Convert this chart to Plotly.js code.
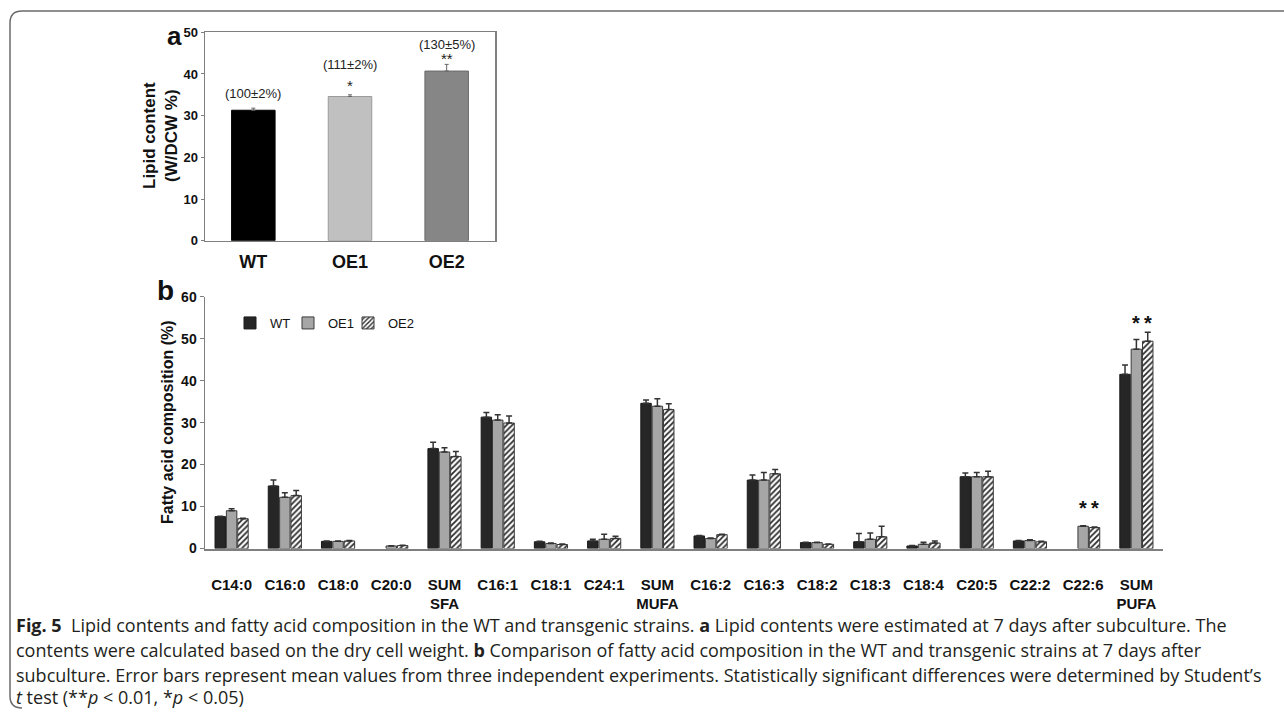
<!DOCTYPE html>
<html>
<head>
<meta charset="utf-8">
<script src="https://cdn.plot.ly/plotly-3.0.1.min.js"></script>
<style>html,body{margin:0;padding:0;background:#fff;}#chart{width:1284px;height:713px;}</style>
</head>
<body>
<div id="chart"></div>
<script>
// ---------- Panel a data ----------
const strains = ['WT', 'OE1', 'OE2'];
const lipid = [31.3, 34.6, 40.7];
const lipidErr = [0.5, 0.4, 1.6];
const relLabels = ['(100±2%)', '(111±2%)', '(130±5%)'];
const lipidSig = ['', '*', '**'];

// ---------- Panel b data ----------
const acids = ['C14:0', 'C16:0', 'C18:0', 'C20:0', 'SUM<br>SFA', 'C16:1', 'C18:1', 'C24:1', 'SUM<br>MUFA',
  'C16:2', 'C16:3', 'C18:2', 'C18:3', 'C18:4', 'C20:5', 'C22:2', 'C22:6', 'SUM<br>PUFA'];
const wt     = [7.6, 14.9, 1.7, null, 23.8, 31.3, 1.6, 1.8, 34.6, 3.0, 16.3, 1.4, 1.6, 0.6, 17.1, 1.8, null, 41.5];
const wtErr  = [0.1, 1.4, 0.1, 0, 1.5, 1.1, 0.1, 0.4, 0.8, 0.1, 1.2, 0.1, 2.0, 0.1, 0.9, 0.1, 0, 2.2];
const oe1    = [9.0, 12.2, 1.7, 0.6, 23.0, 30.6, 1.2, 2.2, 33.9, 2.4, 16.3, 1.4, 2.2, 1.0, 17.1, 1.9, 5.3, 47.5];
const oe1Err = [0.5, 1.1, 0.1, 0.05, 1.0, 1.3, 0.1, 1.2, 1.8, 0.1, 1.8, 0.1, 1.5, 0.5, 1.0, 0.2, 0.1, 2.3];
const oe2    = [7.1, 12.6, 1.8, 0.7, 21.9, 29.9, 0.95, 2.4, 33.1, 3.3, 17.8, 1.0, 2.8, 1.3, 17.1, 1.6, 5.0, 49.4];
const oe2Err = [0.1, 1.2, 0.1, 0.05, 1.2, 1.7, 0.1, 0.5, 1.4, 0.1, 1.0, 0.1, 2.5, 0.5, 1.3, 0.1, 0.1, 2.1];
const sigAcids = ['C22:6', 'SUM<br>PUFA'];

const captionLines = [
  '<b>Fig. 5</b>  Lipid contents and fatty acid composition in the WT and transgenic strains. <b>a</b> Lipid contents were estimated at 7 days after subculture. The',
  'contents were calculated based on the dry cell weight. <b>b</b> Comparison of fatty acid composition in the WT and transgenic strains at 7 days after',
  'subculture. Error bars represent mean values from three independent experiments. Statistically significant differences were determined by Student’s',
  '<i>t</i> test (**<i>p</i> < 0.01, *<i>p</i> < 0.05)'
];

const W = 1284, H = 713;
const px = x => x / W;
const py = y => 1 - y / H;
const FONT = 'Liberation Sans, Arial, sans-serif';
const AX = '#7f7f7f';

const zeros = n => new Array(n).fill(0);

const traces = [
  {
    type: 'bar', x: strains, y: lipid, xaxis: 'x', yaxis: 'y', width: 0.45, showlegend: false,
    marker: { color: ['#000000', '#c0c0c0', '#868686'], line: { color: ['#000', '#9a9a9a', '#6a6a6a'], width: 1 } },
    error_y: { type: 'data', array: lipidErr, arrayminus: zeros(3), symmetric: false, color: '#666', thickness: 1, width: 2 }
  },
  {
    type: 'bar', name: 'WT', x: acids, y: wt, xaxis: 'x2', yaxis: 'y2', legend: 'legend',
    marker: { color: '#262626', line: { color: '#1a1a1a', width: 1 } },
    error_y: { type: 'data', array: wtErr, arrayminus: zeros(acids.length), symmetric: false, color: '#333', thickness: 1.5, width: 3 }
  },
  {
    type: 'bar', name: 'OE1', x: acids, y: oe1, xaxis: 'x2', yaxis: 'y2', legend: 'legend2',
    marker: { color: '#a6a6a6', line: { color: '#3a3a3a', width: 1 } },
    error_y: { type: 'data', array: oe1Err, arrayminus: zeros(acids.length), symmetric: false, color: '#333', thickness: 1.5, width: 3 }
  },
  {
    type: 'bar', name: 'OE2', x: acids, y: oe2, xaxis: 'x2', yaxis: 'y2', legend: 'legend3',
    marker: { color: '#ffffff', line: { color: '#3a3a3a', width: 1 },
      pattern: { shape: '/', fgcolor: '#2a2a2a', bgcolor: '#ffffff', size: 4, solidity: 0.45 } },
    error_y: { type: 'data', array: oe2Err, arrayminus: zeros(acids.length), symmetric: false, color: '#333', thickness: 1.5, width: 3 }
  }
];

const annotations = [];
// panel a labels above bars
const relShift = [15, 30, 20];
const sigShift = [0, 9, 6];
strains.forEach((s, i) => {
  const top = lipid[i] + lipidErr[i];
  annotations.push({ xref: 'x', yref: 'y', x: s, y: top, text: relLabels[i], showarrow: false,
    xanchor: 'center', yanchor: 'middle', yshift: relShift[i], font: { family: FONT, size: 13, color: '#222' } });
  if (lipidSig[i]) {
    annotations.push({ xref: 'x', yref: 'y', x: s, y: top, text: lipidSig[i], showarrow: false,
      xanchor: 'center', yanchor: 'middle', yshift: sigShift[i], font: { family: FONT, size: 15, color: '#222' } });
  }
});
// panel b significance stars over OE1 and OE2 bars
const starShift = [18, 9];
sigAcids.forEach((c, k) => {
  const i = acids.indexOf(c);
  const top = Math.max(oe1[i] + oe1Err[i], oe2[i] + oe2Err[i]);
  [0, 12].forEach(dx => {
    annotations.push({ xref: 'x2', yref: 'y2', x: c, y: top, text: '*', showarrow: false, xshift: dx,
      xanchor: 'center', yanchor: 'middle', yshift: starShift[k], font: { family: FONT, size: 20, color: '#111', weight: 'bold' } });
  });
});
// panel letters and axis titles
annotations.push({ xref: 'paper', yref: 'paper', x: px(175), y: py(36), xanchor: 'center', yanchor: 'middle',
  text: '<b>a</b>', showarrow: false, font: { family: FONT, size: 26, color: '#111' } });
annotations.push({ xref: 'paper', yref: 'paper', x: px(166), y: py(290), xanchor: 'center', yanchor: 'middle',
  text: '<b>b</b>', showarrow: false, font: { family: FONT, size: 28, color: '#111' } });
annotations.push({ xref: 'paper', yref: 'paper', x: px(161), y: py(135), xanchor: 'center', yanchor: 'middle',
  text: '<b>Lipid content<br>(W/DCW %)</b>', showarrow: false, textangle: -90, font: { family: FONT, size: 17, color: '#111' } });
annotations.push({ xref: 'paper', yref: 'paper', x: px(167), y: py(422), xanchor: 'center', yanchor: 'middle',
  text: '<b>Fatty acid composition (%)</b>', showarrow: false, textangle: -90, font: { family: FONT, size: 16, color: '#111' } });
// caption
const capY = [625, 650, 675, 697];
captionLines.forEach((t, i) => {
  annotations.push({ xref: 'paper', yref: 'paper', x: px(14), y: py(capY[i]), xanchor: 'left', yanchor: 'middle',
    text: t, showarrow: false, font: { family: 'Open Sans, sans-serif', size: 18, color: '#231f20' } });
});

// figure frame (rounded corners at the left)
const framePath = `M ${px(1284)} ${py(11)} L ${px(22)} ${py(11)} Q ${px(10)} ${py(11)} ${px(10)} ${py(23)} ` +
  `L ${px(10)} ${py(696)} Q ${px(10)} ${py(708)} ${px(22)} ${py(708)}`;

const legendBase = {
  orientation: 'h', y: py(323), xanchor: 'left', yanchor: 'middle',
  bgcolor: 'rgba(0,0,0,0)', font: { family: FONT, size: 13, color: '#111' }, itemwidth: 30
};

const layout = {
  width: W, height: H,
  margin: { l: 0, r: 0, t: 0, b: 0 },
  paper_bgcolor: '#fff', plot_bgcolor: '#fff',
  barmode: 'group', bargap: 0.36, bargroupgap: 0.08,
  font: { family: FONT, color: '#111' },
  showlegend: true,
  legend: Object.assign({}, legendBase, { x: px(230) }),
  legend2: Object.assign({}, legendBase, { x: px(288) }),
  legend3: Object.assign({}, legendBase, { x: px(348) }),
  xaxis: { domain: [px(205), px(495)], anchor: 'y', type: 'category', range: [-0.5, 2.5],
    showline: true, linecolor: AX, linewidth: 1.5, mirror: true, ticks: '', showgrid: false,
    tickfont: { family: FONT, size: 18, color: '#111', weight: 'bold' }, ticklabelstandoff: 4 },
  yaxis: { domain: [py(240.7), py(32.3)], anchor: 'x', range: [0, 50], dtick: 10,
    showline: true, linecolor: AX, linewidth: 1.5, mirror: true, ticks: 'outside', ticklen: 3, tickcolor: AX,
    showgrid: false, zeroline: false, tickfont: { family: FONT, size: 13, color: '#111', weight: 'bold' } },
  xaxis2: { domain: [px(205), px(1163)], anchor: 'y2', type: 'category', range: [-0.5, 17.5],
    showline: true, linecolor: AX, linewidth: 2, ticks: '', showgrid: false,
    tickfont: { family: FONT, size: 15, color: '#111', weight: 'bold' }, ticklabelstandoff: 21 },
  yaxis2: { domain: [py(548.5), py(296.7)], anchor: 'x2', range: [0, 60], dtick: 10,
    showline: true, linecolor: AX, linewidth: 1.5, ticks: 'outside', ticklen: 4, tickcolor: AX,
    showgrid: false, zeroline: false, tickfont: { family: FONT, size: 14, color: '#111', weight: 'bold' } },
  annotations: annotations,
  shapes: [{ type: 'path', xref: 'paper', yref: 'paper', path: framePath, line: { color: '#6b6b6b', width: 1.5 } }]
};

Plotly.newPlot('chart', traces, layout, { displayModeBar: false, staticPlot: true });
</script>
</body>
</html>
